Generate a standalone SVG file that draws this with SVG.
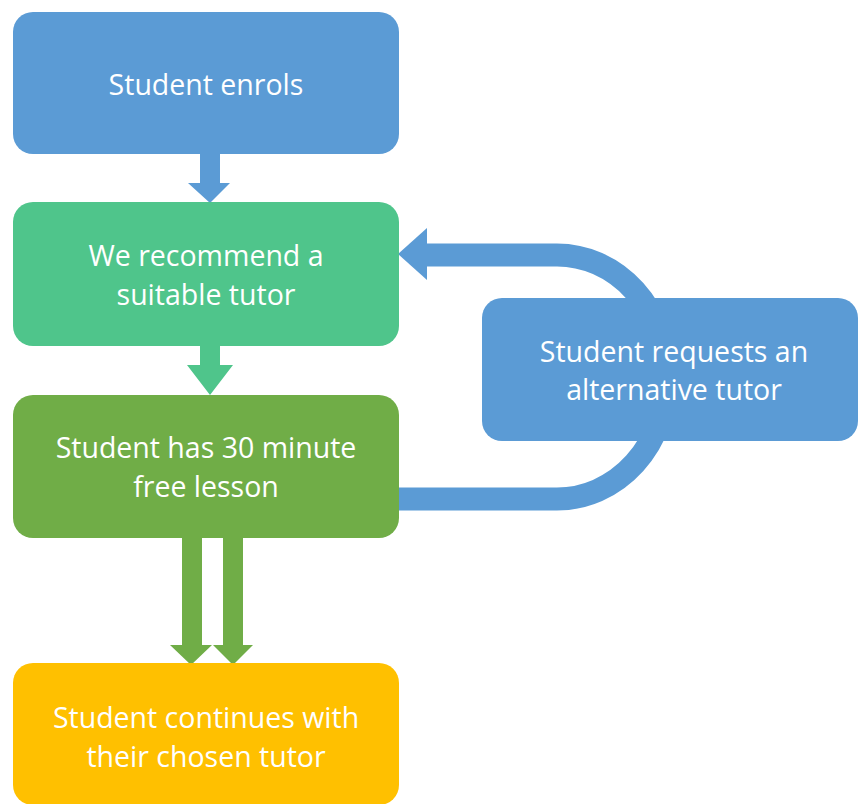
<svg xmlns="http://www.w3.org/2000/svg" width="858" height="804" viewBox="0 0 858 804">
<style>
.t{font-family:"Open Sans","Liberation Sans",sans-serif;font-size:28.5px;fill:#ffffff;text-anchor:middle}
.blue{fill:#5B9BD5}
</style>
<rect width="858" height="804" fill="#ffffff"/>
<g id="connectors">
<path d="M200,154 H220 V183 H230 L210,203 L188,183 H200 Z" fill="#5B9BD5"/>
<path d="M200,346 H220 V365 H233 L210,395 L187,365 H200 Z" fill="#4FC58B"/>
<path d="M182,538 H202 V645 H212 L191,665 L170,645 H182 Z" fill="#70AD47"/>
<path d="M223,538 H243 V645 H253 L233,665 L213,645 H223 Z" fill="#70AD47"/>
<path d="M427,255 H557 A110 122 0 0 1 557,499 H399" fill="none" stroke="#5B9BD5" stroke-width="23"/>
<path d="M398,254 L427,228 V280 Z" fill="#5B9BD5"/>
</g>
<g id="n1"><rect x="13" y="12" width="386" height="142" rx="20" class="blue"/><text class="t" x="206" y="95">Student enrols</text></g>
<g id="n2"><rect x="13" y="202" width="386" height="144" rx="20" fill="#4FC58B"/><text class="t" x="206" y="266">We recommend a</text><text class="t" x="206" y="305">suitable tutor</text></g>
<g id="n3"><rect x="13" y="395" width="386" height="143" rx="20" fill="#70AD47"/><text class="t" x="206" y="458">Student has 30 minute</text><text class="t" x="206" y="497">free lesson</text></g>
<g id="n4"><rect x="13" y="663" width="386" height="142" rx="20" fill="#FFC000"/><text class="t" x="206" y="728">Student continues with</text><text class="t" x="206" y="767">their chosen tutor</text></g>
<g id="n5"><rect x="482" y="298" width="376" height="143" rx="20" class="blue"/><text class="t" x="674" y="362">Student requests an</text><text class="t" x="674" y="400">alternative tutor</text></g>
</svg>
